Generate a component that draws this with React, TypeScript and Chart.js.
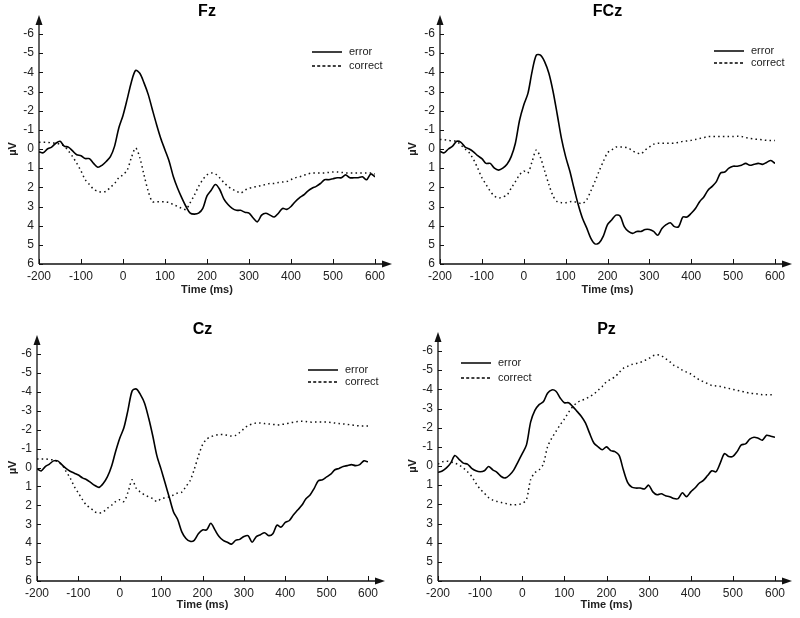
import React, { useEffect, useRef } from "react";
import { Chart, registerables } from "chart.js";

Chart.register(...registerables);

const TIMES = [
  -200, -190, -180, -170, -160, -150, -140, -130, -120, -110,
  -100, -90, -80, -70, -60, -50, -40, -30, -20, -10,
  0, 10, 20, 30, 40, 50, 60, 70, 80, 90,
  100, 110, 120, 130, 140, 150, 160, 170, 180, 190,
  200, 210, 220, 230, 240, 250, 260, 270, 280, 290,
  300, 310, 320, 330, 340, 350, 360, 370, 380, 390,
  400, 410, 420, 430, 440, 450, 460, 470, 480, 490,
  500, 510, 520, 530, 540, 550, 560, 570, 580, 590,
  600,
];

const X_TICKS = [-200, -100, 0, 100, 200, 300, 400, 500, 600];
const Y_TICKS = [-6, -5, -4, -3, -2, -1, 0, 1, 2, 3, 4, 5, 6];

const FZ_ERROR = [
  0.15, 0.2, 0.0, -0.1, -0.3, -0.4, -0.15, -0.1, 0.1, 0.3,
  0.35, 0.5, 0.5, 0.75, 0.95, 0.85, 0.65, 0.4, -0.15, -1.1,
  -1.75, -2.6, -3.5, -4.1, -3.95, -3.45, -2.85, -2.05, -1.27, -0.55,
  0.05, 0.65, 1.45, 2.05, 2.55, 3.0, 3.35, 3.4, 3.35, 3.1,
  2.45, 2.15, 1.85, 2.1, 2.6, 2.9, 3.1, 3.2, 3.2, 3.3,
  3.35, 3.6, 3.8, 3.45, 3.35, 3.45, 3.55, 3.35, 3.1, 3.15,
  3.0, 2.75, 2.55, 2.4, 2.2, 2.05, 1.95, 1.8, 1.6, 1.6,
  1.55, 1.5, 1.5, 1.35, 1.5, 1.5, 1.5, 1.45, 1.6, 1.3,
  1.45,
];
const FZ_CORRECT = [
  -0.35, -0.35, -0.35, -0.32, -0.3, -0.25, -0.15, 0.1, 0.4, 0.75,
  1.15, 1.6, 1.85, 2.1, 2.2, 2.25, 2.2, 2.0, 1.8, 1.5,
  1.35, 1.1, 0.45, -0.05, 0.45, 1.35, 2.2, 2.75, 2.75, 2.75,
  2.75, 2.8, 2.9, 3.0, 3.1, 3.15, 2.8, 2.4, 1.95, 1.6,
  1.35, 1.25, 1.3, 1.5, 1.75, 1.95, 2.1, 2.2, 2.3, 2.15,
  2.05, 2.0, 1.95, 1.9, 1.85, 1.8, 1.8, 1.75, 1.72, 1.7,
  1.6, 1.5, 1.45, 1.38, 1.3, 1.25, 1.25, 1.25, 1.25, 1.22,
  1.2, 1.2, 1.22, 1.25, 1.25, 1.25, 1.25, 1.25, 1.25, 1.25,
  1.3,
];

const FCZ_ERROR = [
  0.12, 0.2, 0.0, -0.15, -0.4, -0.35, -0.1, 0.0, 0.15, 0.35,
  0.5, 0.75, 0.75, 1.0, 1.1, 1.0, 0.8, 0.4, -0.3, -1.5,
  -2.3, -2.9, -4.05, -4.9, -4.9, -4.55, -3.95, -3.0, -1.8, -0.55,
  0.4, 1.15, 2.05, 2.9, 3.6, 4.1, 4.65, 4.95, 4.9, 4.55,
  3.95, 3.7, 3.45, 3.5, 4.05, 4.3, 4.4, 4.3, 4.3, 4.2,
  4.2, 4.3, 4.5, 4.15, 3.95, 3.85, 4.05, 4.05, 3.55, 3.55,
  3.35, 3.1, 2.75, 2.5, 2.15, 1.95, 1.7, 1.25, 1.2, 1.0,
  0.9, 0.9, 0.85, 0.75, 0.85, 0.8, 0.75, 0.8, 0.7, 0.6,
  0.75,
];
const FCZ_CORRECT = [
  -0.5, -0.48, -0.45, -0.42, -0.4, -0.2, 0.0, 0.2, 0.55, 1.0,
  1.5, 1.85, 2.2, 2.45, 2.55, 2.5, 2.4, 2.05, 1.7, 1.35,
  1.15, 1.25, 0.65, 0.05, 0.45, 1.15, 1.85, 2.45, 2.75, 2.8,
  2.8, 2.75, 2.75, 2.8, 2.85, 2.65, 2.2, 1.7, 1.15, 0.65,
  0.2, 0.05, -0.1, -0.1, -0.1, -0.05, 0.1, 0.2, 0.25, 0.05,
  -0.1, -0.25, -0.3, -0.3, -0.3, -0.3, -0.3, -0.35, -0.4, -0.42,
  -0.45, -0.5, -0.55, -0.6, -0.65, -0.65, -0.65, -0.65, -0.65, -0.65,
  -0.65, -0.67, -0.65, -0.6, -0.55, -0.52, -0.5, -0.48, -0.45, -0.45,
  -0.45,
];

const CZ_ERROR = [
  0.07, 0.18, -0.05, -0.18, -0.35, -0.35, -0.15, 0.05, 0.2, 0.3,
  0.4, 0.55, 0.65, 0.8, 0.95, 1.05, 0.85, 0.5, -0.05, -0.85,
  -1.55, -2.1, -3.05, -4.05, -4.15, -3.85, -3.4, -2.6, -1.65, -0.6,
  0.1, 0.85, 1.6, 2.35, 2.75, 3.4, 3.75, 3.9, 3.85, 3.5,
  3.3, 3.3, 2.95, 3.3, 3.65, 3.85, 3.95, 4.05, 3.85, 3.8,
  3.65, 3.6, 3.95, 3.65, 3.55, 3.45, 3.6, 3.5, 3.05, 3.15,
  2.9, 2.8, 2.5, 2.25, 2.0, 1.65, 1.45, 1.1, 0.7, 0.65,
  0.5, 0.35, 0.12, 0.05, -0.05, -0.1, -0.15, -0.1, -0.15, -0.35,
  -0.3,
];
const CZ_CORRECT = [
  -0.45, -0.45, -0.45, -0.42, -0.4, -0.3, -0.15, 0.2, 0.55, 1.0,
  1.35, 1.7, 2.0, 2.15, 2.35, 2.4, 2.35, 2.15, 2.0, 1.8,
  1.7, 1.8, 1.3, 0.65, 1.1, 1.3, 1.45, 1.55, 1.65, 1.8,
  1.65, 1.6, 1.55, 1.45, 1.35, 1.3, 1.0, 0.7, 0.1, -0.6,
  -1.2, -1.5, -1.62, -1.7, -1.74, -1.74, -1.7, -1.66, -1.7, -1.85,
  -2.05, -2.22, -2.3, -2.35, -2.35, -2.32, -2.3, -2.28, -2.25, -2.28,
  -2.3, -2.35, -2.4, -2.43, -2.45, -2.43, -2.4, -2.4, -2.4, -2.4,
  -2.4, -2.38, -2.35, -2.32, -2.3, -2.28, -2.25, -2.22, -2.2, -2.2,
  -2.2,
];

const PZ_ERROR = [
  0.33, 0.26, 0.1, -0.15, -0.55, -0.35, -0.15, -0.1, 0.12, 0.25,
  0.3, 0.25, 0.03, 0.2, 0.33, 0.55, 0.62, 0.47, 0.2, -0.22,
  -0.65, -1.1, -2.3, -2.9, -3.2, -3.35, -3.8, -3.97, -3.9, -3.55,
  -3.3, -3.3, -3.1, -2.85, -2.6, -2.25, -1.7, -1.2, -1.0, -0.85,
  -1.0, -0.8, -0.75, -0.55, 0.2, 0.85, 1.1, 1.15, 1.15, 1.2,
  1.0, 1.35, 1.5, 1.45, 1.55, 1.6, 1.7, 1.7, 1.4, 1.6,
  1.35, 1.15, 0.9, 0.75, 0.5, 0.25, 0.3, -0.15, -0.65, -0.5,
  -0.5, -0.75, -1.1, -1.15, -1.4, -1.5, -1.45, -1.35, -1.6, -1.55,
  -1.5,
];
const PZ_CORRECT = [
  -0.1, -0.22, -0.25, -0.22, -0.15, -0.05, 0.1, 0.3, 0.55, 0.9,
  1.2, 1.42, 1.65, 1.78, 1.85, 1.9, 1.95, 2.0, 2.03, 2.0,
  1.95, 1.75, 0.7, 0.35, 0.2, -0.1, -1.0, -1.45, -1.8, -2.15,
  -2.45, -2.8, -3.1, -3.3, -3.42, -3.5, -3.62, -3.75, -3.95, -4.15,
  -4.4, -4.52, -4.65, -4.87, -5.1, -5.2, -5.3, -5.35, -5.4, -5.5,
  -5.6, -5.75, -5.8, -5.75, -5.6, -5.45, -5.25, -5.15, -5.0, -4.9,
  -4.8, -4.65, -4.5, -4.4, -4.3, -4.2, -4.18, -4.15, -4.1, -4.05,
  -4.0, -3.95, -3.9, -3.85, -3.8, -3.78, -3.75, -3.72, -3.72, -3.72,
  -3.7,
];

const FONT = "'Liberation Sans', Arial, Helvetica, sans-serif";

type PanelCfg = {
  title: string;
  error: number[];
  correct: number[];
  left: number;
  top: number;
  width: number;
  height: number;
  area: { l: number; r: number; t: number; b: number };
  titleY: number;
  xTitleY: number;
  legend: { x: number; y1: number; y2: number };
};

const PANELS: PanelCfg[] = [
  {
    title: "Fz", error: FZ_ERROR, correct: FZ_CORRECT,
    left: 0, top: 0, width: 400, height: 300,
    area: { l: 39, r: 375, t: 34, b: 264 }, titleY: 12, xTitleY: 290,
    legend: { x: 312, y1: 52, y2: 66 },
  },
  {
    title: "FCz", error: FCZ_ERROR, correct: FCZ_CORRECT,
    left: 400, top: 0, width: 400, height: 300,
    area: { l: 40, r: 375, t: 34, b: 264 }, titleY: 12, xTitleY: 290,
    legend: { x: 314, y1: 51, y2: 63 },
  },
  {
    title: "Cz", error: CZ_ERROR, correct: CZ_CORRECT,
    left: 0, top: 300, width: 400, height: 318,
    area: { l: 37, r: 368, t: 54, b: 281 }, titleY: 30, xTitleY: 305,
    legend: { x: 308, y1: 70, y2: 82 },
  },
  {
    title: "Pz", error: PZ_ERROR, correct: PZ_CORRECT,
    left: 400, top: 300, width: 400, height: 318,
    area: { l: 38, r: 375, t: 51, b: 281 }, titleY: 30, xTitleY: 305,
    legend: { x: 61, y1: 63, y2: 78 },
  },
];

function makeAxesPlugin(cfg: PanelCfg) {
  return {
    id: "eegAxes",
    afterDraw(chart: any) {
      const { ctx, chartArea: a, scales } = chart;
      const xs = scales.x;
      const ys = scales.y;
      ctx.save();
      ctx.strokeStyle = "#111";
      ctx.fillStyle = "#111";
      ctx.lineWidth = 1.3;
      // x axis
      ctx.beginPath();
      ctx.moveTo(a.left, a.bottom);
      ctx.lineTo(a.right + 10, a.bottom);
      ctx.stroke();
      ctx.beginPath();
      ctx.moveTo(a.right + 17, a.bottom);
      ctx.lineTo(a.right + 7, a.bottom - 3.5);
      ctx.lineTo(a.right + 7, a.bottom + 3.5);
      ctx.closePath();
      ctx.fill();
      // y axis
      ctx.beginPath();
      ctx.moveTo(a.left, a.bottom);
      ctx.lineTo(a.left, a.top - 12);
      ctx.stroke();
      ctx.beginPath();
      ctx.moveTo(a.left, a.top - 19);
      ctx.lineTo(a.left - 3.5, a.top - 9);
      ctx.lineTo(a.left + 3.5, a.top - 9);
      ctx.closePath();
      ctx.fill();
      // ticks
      ctx.lineWidth = 1;
      X_TICKS.forEach((v) => {
        const px = Math.round(xs.getPixelForValue(v)) + 0.5;
        ctx.beginPath();
        ctx.moveTo(px, a.bottom);
        ctx.lineTo(px, a.bottom - 5);
        ctx.stroke();
      });
      Y_TICKS.forEach((v) => {
        const py = Math.round(ys.getPixelForValue(v)) + 0.5;
        ctx.beginPath();
        ctx.moveTo(a.left, py);
        ctx.lineTo(a.left + 4, py);
        ctx.stroke();
      });
      // legend
      const lg = cfg.legend;
      ctx.lineWidth = 1.5;
      ctx.strokeStyle = "#000";
      ctx.setLineDash([]);
      ctx.beginPath();
      ctx.moveTo(lg.x, lg.y1);
      ctx.lineTo(lg.x + 30, lg.y1);
      ctx.stroke();
      ctx.setLineDash([3, 2.2]);
      ctx.beginPath();
      ctx.moveTo(lg.x, lg.y2);
      ctx.lineTo(lg.x + 30, lg.y2);
      ctx.stroke();
      ctx.setLineDash([]);
      ctx.fillStyle = "#222";
      ctx.font = `11px ${FONT}`;
      ctx.textAlign = "left";
      ctx.textBaseline = "middle";
      ctx.fillText("error", lg.x + 37, lg.y1);
      ctx.fillText("correct", lg.x + 37, lg.y2);
      ctx.restore();
    },
  };
}

function Panel({ cfg }: { cfg: PanelCfg }) {
  const ref = useRef<HTMLCanvasElement | null>(null);
  useEffect(() => {
    const canvas = ref.current;
    if (!canvas) return;
    const errPts = TIMES.map((t, i) => ({ x: t, y: cfg.error[i] }));
    const corPts = TIMES.map((t, i) => ({ x: t, y: cfg.correct[i] }));
    const titleLH = 16 * 1.2;
    const titlePadTop = cfg.titleY - titleLH / 2;
    const titlePadBottom = cfg.area.t - titleLH - titlePadTop;
    const xH = cfg.height - cfg.area.b;
    const xTitlePadBottom = cfg.height - cfg.xTitleY - (11 * 1.2) / 2;
    const chart = new Chart(canvas, {
      type: "line",
      data: {
        datasets: [
          {
            label: "error",
            data: errPts,
            borderColor: "#000",
            borderWidth: 1.6,
            pointRadius: 0,
            tension: 0.3,
            fill: false,
          },
          {
            label: "correct",
            data: corPts,
            borderColor: "#111",
            borderWidth: 1.5,
            borderDash: [1.5, 3.2],
            pointRadius: 0,
            tension: 0.3,
            fill: false,
          },
        ],
      },
      options: {
        animation: false,
        responsive: false,
        maintainAspectRatio: false,
        events: [],
        layout: { padding: { left: 0, right: cfg.width - cfg.area.r, top: 0, bottom: 0 } },
        plugins: {
          legend: { display: false },
          tooltip: { enabled: false },
          title: {
            display: true,
            text: cfg.title,
            fullSize: false,
            color: "#000",
            font: { family: FONT, size: 16, weight: "bold" },
            padding: { top: titlePadTop, bottom: titlePadBottom },
          },
        },
        scales: {
          x: {
            type: "linear",
            min: -200,
            max: 600,
            grid: { display: false, drawTicks: false },
            border: { display: false },
            ticks: {
              stepSize: 100,
              maxRotation: 0,
              autoSkip: false,
              padding: 5,
              color: "#222",
              font: { family: FONT, size: 12 },
            },
            title: {
              display: true,
              text: "Time (ms)",
              color: "#222",
              font: { family: FONT, size: 11, weight: "bold" },
              padding: { top: 0, bottom: xTitlePadBottom },
            },
            afterFit: (s: any) => {
              s.height = xH;
            },
          },
          y: {
            type: "linear",
            reverse: true,
            min: -6,
            max: 6,
            grid: { display: false, drawTicks: false },
            border: { display: false },
            ticks: {
              stepSize: 1,
              padding: 5,
              color: "#222",
              font: { family: FONT, size: 12 },
            },
            title: {
              display: true,
              text: "µV",
              color: "#222",
              font: { family: FONT, size: 11, weight: "bold" },
              padding: { top: 6, bottom: 0 },
            },
            afterFit: (s: any) => {
              s.width = cfg.area.l;
            },
          },
        },
      },
      plugins: [makeAxesPlugin(cfg)],
    } as any);
    return () => chart.destroy();
  }, [cfg]);
  return (
    <canvas
      ref={ref}
      width={cfg.width}
      height={cfg.height}
      style={{
        position: "absolute",
        left: cfg.left,
        top: cfg.top,
        width: cfg.width,
        height: cfg.height,
      }}
    />
  );
}

export default function App() {
  return (
    <div
      style={{
        position: "absolute",
        left: 0,
        top: 0,
        width: 800,
        height: 618,
        background: "#fff",
        overflow: "hidden",
      }}
    >
      {PANELS.map((p) => (
        <Panel key={p.title} cfg={p} />
      ))}
    </div>
  );
}
